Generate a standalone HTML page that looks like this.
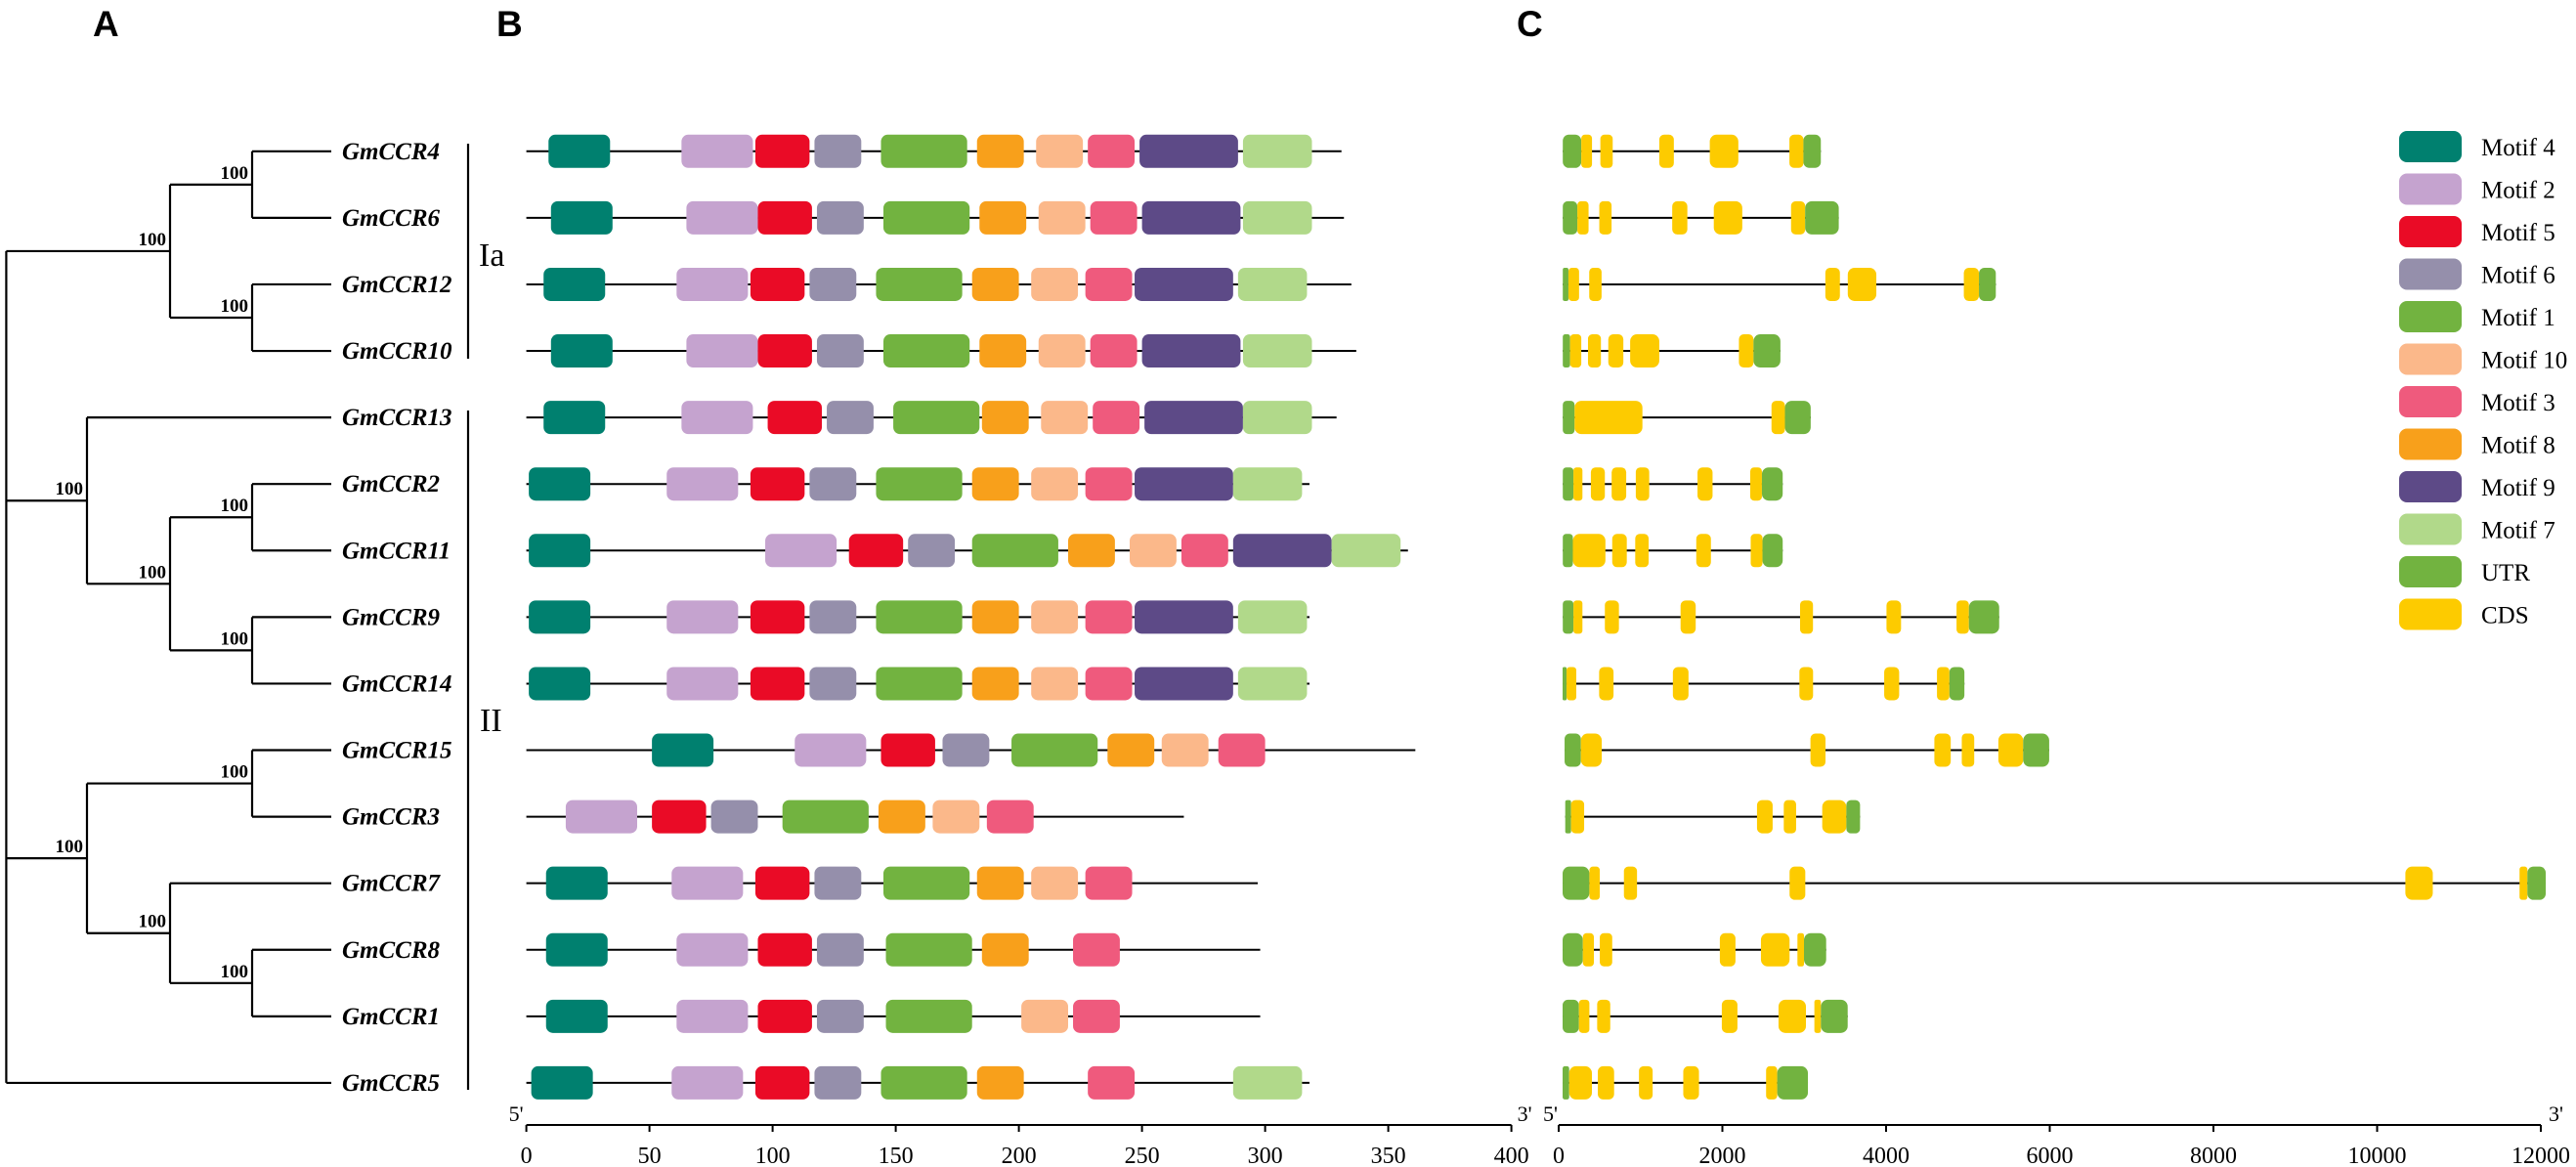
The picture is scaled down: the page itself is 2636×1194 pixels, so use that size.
<!DOCTYPE html>
<html><head><meta charset="utf-8"><title>GmCCR phylogeny, motifs and gene structure</title>
<style>
html,body{margin:0;padding:0;background:#fff;}
svg{display:block;}
text{font-family:"Liberation Serif","DejaVu Serif",serif;}
</style></head>
<body>
<svg id="fig" xmlns="http://www.w3.org/2000/svg" width="2636" height="1194" viewBox="0 0 2636 1194">
<text x="95" y="37" style="font-family:'Liberation Sans',sans-serif;font-weight:bold;font-size:37px">A</text>
<text x="508" y="37" style="font-family:'Liberation Sans',sans-serif;font-weight:bold;font-size:37px">B</text>
<text x="1552" y="37" style="font-family:'Liberation Sans',sans-serif;font-weight:bold;font-size:37px">C</text>
<g id="tree"></g>
<g id="motifs"></g>
<g id="structure"></g>
<g id="legend"></g>
</svg>
<script>
const genes = ['GmCCR4','GmCCR6','GmCCR12','GmCCR10','GmCCR13','GmCCR2','GmCCR11','GmCCR9','GmCCR14','GmCCR15','GmCCR3','GmCCR7','GmCCR8','GmCCR1','GmCCR5'];
const protLen = [331,332,335,337,329,318,358,318,318,361,267,297,298,298,318];
const motifNames = ['Motif 4','Motif 2','Motif 5','Motif 6','Motif 1','Motif 10','Motif 3','Motif 8','Motif 9','Motif 7'];
const motifLen = {'Motif 4':25,'Motif 2':29,'Motif 5':22,'Motif 6':19,'Motif 1':35,'Motif 10':19,'Motif 3':19,'Motif 8':19,'Motif 9':40,'Motif 7':28};
const motifColor = {'Motif 4':'#00806f','Motif 2':'#c5a3cf','Motif 5':'#ea0b26','Motif 6':'#958fab','Motif 1':'#72b340','Motif 10':'#fbb88a','Motif 3':'#ef5a7d','Motif 8':'#f8a01b','Motif 9':'#5d4a87','Motif 7':'#b1d98a','UTR':'#72b340','CDS':'#fdcb00'};
const motifStarts = [
 [['Motif 4',9],['Motif 2',63],['Motif 5',93],['Motif 6',117],['Motif 1',144],['Motif 8',183],['Motif 10',207],['Motif 3',228],['Motif 9',249],['Motif 7',291]],
 [['Motif 4',10],['Motif 2',65],['Motif 5',94],['Motif 6',118],['Motif 1',145],['Motif 8',184],['Motif 10',208],['Motif 3',229],['Motif 9',250],['Motif 7',291]],
 [['Motif 4',7],['Motif 2',61],['Motif 5',91],['Motif 6',115],['Motif 1',142],['Motif 8',181],['Motif 10',205],['Motif 3',227],['Motif 9',247],['Motif 7',289]],
 [['Motif 4',10],['Motif 2',65],['Motif 5',94],['Motif 6',118],['Motif 1',145],['Motif 8',184],['Motif 10',208],['Motif 3',229],['Motif 9',250],['Motif 7',291]],
 [['Motif 4',7],['Motif 2',63],['Motif 5',98],['Motif 6',122],['Motif 1',149],['Motif 8',185],['Motif 10',209],['Motif 3',230],['Motif 9',251],['Motif 7',291]],
 [['Motif 4',1],['Motif 2',57],['Motif 5',91],['Motif 6',115],['Motif 1',142],['Motif 8',181],['Motif 10',205],['Motif 3',227],['Motif 9',247],['Motif 7',287]],
 [['Motif 4',1],['Motif 2',97],['Motif 5',131],['Motif 6',155],['Motif 1',181],['Motif 8',220],['Motif 10',245],['Motif 3',266],['Motif 9',287],['Motif 7',327]],
 [['Motif 4',1],['Motif 2',57],['Motif 5',91],['Motif 6',115],['Motif 1',142],['Motif 8',181],['Motif 10',205],['Motif 3',227],['Motif 9',247],['Motif 7',289]],
 [['Motif 4',1],['Motif 2',57],['Motif 5',91],['Motif 6',115],['Motif 1',142],['Motif 8',181],['Motif 10',205],['Motif 3',227],['Motif 9',247],['Motif 7',289]],
 [['Motif 4',51],['Motif 2',109],['Motif 5',144],['Motif 6',169],['Motif 1',197],['Motif 8',236],['Motif 10',258],['Motif 3',281]],
 [['Motif 2',16],['Motif 5',51],['Motif 6',75],['Motif 1',104],['Motif 8',143],['Motif 10',165],['Motif 3',187]],
 [['Motif 4',8],['Motif 2',59],['Motif 5',93],['Motif 6',117],['Motif 1',145],['Motif 8',183],['Motif 10',205],['Motif 3',227]],
 [['Motif 4',8],['Motif 2',61],['Motif 5',94],['Motif 6',118],['Motif 1',146],['Motif 8',185],['Motif 3',222]],
 [['Motif 4',8],['Motif 2',61],['Motif 5',94],['Motif 6',118],['Motif 1',146],['Motif 10',201],['Motif 3',222]],
 [['Motif 4',2],['Motif 2',59],['Motif 5',93],['Motif 6',117],['Motif 1',144],['Motif 8',183],['Motif 3',228],['Motif 7',287]]
];
const exons = [
 [[50,276,'UTR'],[276,407,'CDS'],[509,660,'CDS'],[1229,1407,'CDS'],[1846,2195,'CDS'],[2819,2990,'CDS'],[2990,3203,'UTR']],
 [[50,228,'UTR'],[228,365,'CDS'],[496,646,'CDS'],[1387,1572,'CDS'],[1895,2243,'CDS'],[2839,3011,'CDS'],[3011,3422,'UTR']],
 [[50,119,'UTR'],[119,249,'CDS'],[373,524,'CDS'],[3258,3436,'CDS'],[3532,3881,'CDS'],[4950,5135,'CDS'],[5135,5341,'UTR']],
 [[50,139,'UTR'],[139,276,'CDS'],[358,516,'CDS'],[606,790,'CDS'],[873,1229,'CDS'],[2202,2380,'CDS'],[2380,2709,'UTR']],
 [[50,194,'UTR'],[194,1023,'CDS'],[2600,2764,'CDS'],[2764,3079,'UTR']],
 [[50,180,'UTR'],[180,290,'CDS'],[393,564,'CDS'],[647,825,'CDS'],[942,1106,'CDS'],[1696,1880,'CDS'],[2340,2483,'CDS'],[2483,2737,'UTR']],
 [[50,173,'UTR'],[173,571,'CDS'],[654,832,'CDS'],[935,1099,'CDS'],[1681,1860,'CDS'],[2346,2490,'CDS'],[2490,2737,'UTR']],
 [[50,180,'UTR'],[180,290,'CDS'],[564,736,'CDS'],[1489,1674,'CDS'],[2949,3107,'CDS'],[4005,4183,'CDS'],[4861,5012,'CDS'],[5012,5382,'UTR']],
 [[48,96,'UTR'],[96,215,'CDS'],[494,670,'CDS'],[1395,1586,'CDS'],[2941,3108,'CDS'],[3977,4160,'CDS'],[4622,4774,'CDS'],[4774,4957,'UTR']],
 [[72,271,'UTR'],[271,526,'CDS'],[3076,3260,'CDS'],[4590,4790,'CDS'],[4925,5077,'CDS'],[5372,5675,'CDS'],[5675,5993,'UTR']],
 [[80,151,'UTR'],[151,311,'CDS'],[2423,2614,'CDS'],[2750,2901,'CDS'],[3220,3515,'CDS'],[3515,3682,'UTR']],
 [[48,375,'UTR'],[375,502,'CDS'],[797,957,'CDS'],[2821,3013,'CDS'],[10345,10680,'CDS'],[11740,11836,'CDS'],[11836,12060,'UTR']],
 [[48,295,'UTR'],[295,430,'CDS'],[502,654,'CDS'],[1969,2160,'CDS'],[2471,2821,'CDS'],[2917,2997,'CDS'],[2997,3268,'UTR']],
 [[48,247,'UTR'],[247,375,'CDS'],[470,630,'CDS'],[1993,2184,'CDS'],[2686,3021,'CDS'],[3124,3204,'CDS'],[3204,3531,'UTR']],
 [[48,128,'UTR'],[128,406,'CDS'],[478,677,'CDS'],[981,1148,'CDS'],[1522,1714,'CDS'],[2534,2670,'CDS'],[2670,3045,'UTR']]
];
const bTicks = [0,50,100,150,200,250,300,350,400];
const cTicks = [0,2000,4000,6000,8000,10000,12000];
const legendItems = ['Motif 4','Motif 2','Motif 5','Motif 6','Motif 1','Motif 10','Motif 3','Motif 8','Motif 9','Motif 7','UTR','CDS'];
const bootstrap = ['100','100','100','100','100','100','100','100','100','100','100'];

const NS='http://www.w3.org/2000/svg';
function mk(tag, attrs, parent){const e=document.createElementNS(NS,tag);for(const k in attrs)e.setAttribute(k,attrs[k]);parent.appendChild(e);return e;}
const rowY = i => 154.8 + 68.08*i;
const xB = u => 538.6 + 2.52*u;
const xC = bp => 1595 + 0.08375*bp;
const BOXH = 34;

// ---------- Tree ----------
const tree = document.getElementById('tree');
function line(x1,y1,x2,y2,name){const l=mk('line',{x1,y1,x2,y2,stroke:'#000','stroke-width':2.2},tree);

return l;}
const LEAFX=339, ROOTX=6.4;
function node(x, childYs){line(x,Math.min(...childYs),x,Math.max(...childYs),'tree-node-line');return (childYs[0]+childYs[childYs.length-1])/2;}
function hb(x1,x2,y){line(x1,y,x2,y,'tree-branch');}
let bi=0;
function boot(x,y){const t=mk('text',{x:x-4,y:y-6,'text-anchor':'end','font-size':19,'font-weight':'bold'},tree);t.textContent=bootstrap[bi++%bootstrap.length];

}
const L=genes.map((g,i)=>rowY(i));
// leaves branches
function leaf(i,fromX){hb(fromX,LEAFX,L[i]);}
// Ia clade
leaf(0,258);leaf(1,258);const a=node(258,[L[0],L[1]]);
leaf(2,258);leaf(3,258);const b=node(258,[L[2],L[3]]);
hb(174,258,a);boot(258,a);hb(174,258,b);boot(258,b);
const ia=node(174,[a,b]);hb(ROOTX,174,ia);boot(174,ia);
// clade f
leaf(5,258);leaf(6,258);const c=node(258,[L[5],L[6]]);
leaf(7,258);leaf(8,258);const d=node(258,[L[7],L[8]]);
hb(174,258,c);boot(258,c);hb(174,258,d);boot(258,d);
const e=node(174,[c,d]);hb(89,174,e);boot(174,e);
leaf(4,89);const f=node(89,[L[4],e]);hb(ROOTX,89,f);boot(89,f);
// clade j
leaf(9,258);leaf(10,258);const g=node(258,[L[9],L[10]]);
leaf(12,258);leaf(13,258);const h=node(258,[L[12],L[13]]);
hb(174,258,h);boot(258,h);leaf(11,174);const ii=node(174,[L[11],h]);
hb(89,258,g);boot(258,g);hb(89,174,ii);boot(174,ii);
const j=node(89,[g,ii]);hb(ROOTX,89,j);boot(89,j);
leaf(14,ROOTX);
node(ROOTX,[ia,L[14]]);
genes.forEach((gname,i)=>{const t=mk('text',{x:350,y:L[i]+8,'font-size':25,'font-weight':'bold','font-style':'italic'},tree);t.textContent=gname;

});
// clade bars
line(479,147,479,367,'clade-bar-ia');line(479,420,479,1115,'clade-bar-ii');
let t1=mk('text',{x:490,y:272,'font-size':34},tree);t1.textContent='Ia';


let t2=mk('text',{x:491,y:748,'font-size':34},tree);t2.textContent='II';



// ---------- Motifs ----------
const mg=document.getElementById('motifs');
genes.forEach((gname,i)=>{
  const y=rowY(i);
  const gl=mk('line',{x1:xB(0),y1:y,x2:xB(protLen[i]),y2:y,stroke:'#000','stroke-width':2},mg);
  
  
  motifStarts[i].forEach(([m,s])=>{
    const r=mk('rect',{x:xB(s),y:y-BOXH/2,width:xB(s+motifLen[m])-xB(s),height:BOXH,rx:7,fill:motifColor[m]},mg);
    
    
  });
});
// axis B
const AXY=1151;
let ab=mk('line',{x1:xB(0),y1:AXY,x2:xB(400),y2:AXY,stroke:'#000','stroke-width':2},mg);


bTicks.forEach(v=>{
  const tk=mk('line',{x1:xB(v),y1:AXY,x2:xB(v),y2:AXY+7,stroke:'#000','stroke-width':2},mg);
  
  
  const t=mk('text',{x:xB(v),y:1190,'text-anchor':'middle','font-size':24},mg);t.textContent=v;
  
  
});
let p5=mk('text',{x:xB(0)-18,y:AXY-4,'font-size':22},mg);p5.textContent="5'";


let p3=mk('text',{x:xB(400)+6,y:AXY-4,'font-size':22},mg);p3.textContent="3'";



// ---------- Gene structure ----------
const sg=document.getElementById('structure');
genes.forEach((gname,i)=>{
  const y=rowY(i), ex=exons[i];
  const gl=mk('line',{x1:xC(ex[0][0]),y1:y,x2:xC(ex[ex.length-1][1]),y2:y,stroke:'#000','stroke-width':2},sg);
  
  
  ex.forEach(([s,en,tp])=>{
    const w=xC(en)-xC(s);
    const r=mk('rect',{x:xC(s),y:y-BOXH/2,width:w,height:BOXH,rx:Math.min(7,w/3),fill:motifColor[tp]},sg);
    
    
  });
});
let ac=mk('line',{x1:xC(0),y1:AXY,x2:xC(12000),y2:AXY,stroke:'#000','stroke-width':2},sg);


cTicks.forEach(v=>{
  const tk=mk('line',{x1:xC(v),y1:AXY,x2:xC(v),y2:AXY+7,stroke:'#000','stroke-width':2},sg);
  
  
  const t=mk('text',{x:xC(v),y:1190,'text-anchor':'middle','font-size':24},sg);t.textContent=v;
  
  
});
let c5=mk('text',{x:xC(0)-16,y:AXY-4,'font-size':22},sg);c5.textContent="5'";


let c3=mk('text',{x:xC(12000)+8,y:AXY-4,'font-size':22},sg);c3.textContent="3'";



// ---------- Legend ----------
const lg=document.getElementById('legend');
legendItems.forEach((m,k)=>{
  const y=150+43.5*k;
  const r=mk('rect',{x:2455,y:y-16,width:64,height:32,rx:8,fill:motifColor[m]},lg);
  
  
  const t=mk('text',{x:2539,y:y+9,'font-size':25},lg);t.textContent=m;
  
  
});
</script>
</body></html>
